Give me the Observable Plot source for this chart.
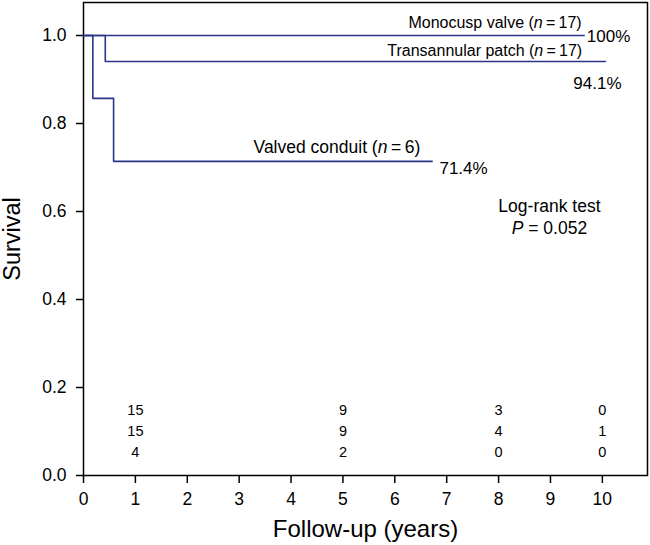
<!DOCTYPE html>
<html><head><meta charset="utf-8">
<script src="https://cdn.jsdelivr.net/npm/d3@7"></script>
<script src="https://cdn.jsdelivr.net/npm/@observablehq/plot@0.6"></script>
<style>
html,body{margin:0;padding:0;background:#fff;}
#chart svg{display:block;}
</style>
</head><body><div id="chart"></div>
<script>
// ---- data ----
const groups = ["Monocusp valve", "Transannular patch", "Valved conduit"];
const groupN = [17, 17, 6];
const monocuspTime = [0, 9.65];
const monocuspSurv = [1, 1];
const transTime = [0, 0.42, 10.06];
const transSurv = [1, 0.941, 0.941];
const valvedTime = [0, 0.18, 0.58, 6.72];
const valvedSurv = [1, 0.857, 0.714, 0.714];
const finalLabels = ["100%", "94.1%", "71.4%"];
const riskTimes = [1, 5, 8, 10];
const riskRow1 = [15, 9, 3, 0];
const riskRow2 = [15, 9, 4, 1];
const riskRow3 = [4, 2, 0, 0];
const xTicks = [0, 1, 2, 3, 4, 5, 6, 7, 8, 9, 10];
const yTicks = [0, 0.2, 0.4, 0.6, 0.8, 1.0];
const testLabel = "Log-rank test";
const pValue = "0.052";

// ---- layout (annotation anchors in data units) ----
const groupLabelPos = [{x: 9.6, y: 1.029, fs: 16}, {x: 9.61, y: 0.966, fs: 16}, {x: 6.49, y: 0.745, fs: 17.5}];
const finalLabelPos = [{x: 9.7, y: 0.998}, {x: 9.44, y: 0.891}, {x: 6.86, y: 0.698}];
const riskRowY = [0.148, 0.1, 0.052];
const testPos = {x: 8.98, y1: 0.611, y2: 0.561};

const curves = [];
[[monocuspTime, monocuspSurv], [transTime, transSurv], [valvedTime, valvedSurv]].forEach(([t, s], i) => {
  t.forEach((tt, j) => curves.push({group: groups[i], t: tt, s: s[j]}));
});
const groupLabels = groups.map((g, i) => ({...groupLabelPos[i], text: `${g} (n\u2009=\u2009${groupN[i]})`}));
const finals = finalLabels.map((f, i) => ({...finalLabelPos[i], text: f}));
const risk = [];
[riskRow1, riskRow2, riskRow3].forEach((row, r) => row.forEach((v, k) => risk.push({t: riskTimes[k], y: riskRowY[r], v})));

const lineColor = "#2a3588";
const font = "'Liberation Sans', Arial, Helvetica, sans-serif";

const chart = Plot.plot({
  width: 650, height: 545,
  marginLeft: 83, marginRight: 3, marginTop: 2, marginBottom: 70,
  style: {fontFamily: font, background: "white", color: "black", overflow: "visible"},
  x: {domain: [0, 10.87]},
  y: {domain: [0, 1.075]},
  marks: [
    Plot.axisX({ticks: xTicks, tickFormat: d => String(d), tickSize: 8, tickPadding: 9, fontSize: 17.5, strokeWidth: 1.5, label: null}),
    Plot.axisY({ticks: yTicks, tickFormat: d3.format(".1f"), tickSize: 7, tickPadding: 10, fontSize: 17.5, strokeWidth: 1.5, label: null}),
    Plot.frame({stroke: "black", strokeWidth: 1.5}),
    Plot.line(curves, {x: "t", y: "s", z: "group", curve: "step-after", stroke: lineColor, strokeWidth: 1.6}),
    Plot.text(groupLabels, {x: "x", y: "y", text: "text", textAnchor: "end", fontSize: d => d.fs, lineAnchor: "middle"}),
    Plot.text(finals, {x: "x", y: "y", text: "text", textAnchor: "start", fontSize: 17, lineAnchor: "middle"}),
    Plot.text([testLabel], {x: testPos.x, y: testPos.y1, text: d => d, fontSize: 17.5, lineAnchor: "middle"}),
    Plot.text(["P = " + pValue], {x: testPos.x, y: testPos.y2, text: d => d, fontSize: 17.5, lineAnchor: "middle"}),
    Plot.text(risk, {x: "t", y: "y", text: "v", fontSize: 14.5, lineAnchor: "middle"}),
    Plot.text(["Survival"], {frameAnchor: "left", dx: -71.5, rotate: -90, fontSize: 23.5, textAnchor: "middle", lineAnchor: "middle"}),
    Plot.text(["Follow-up (years)"], {frameAnchor: "bottom", dy: 54, fontSize: 24, textAnchor: "middle", lineAnchor: "middle"})
  ]
});

// italicize statistical symbols
d3.select(chart).selectAll("text").each(function() {
  const t = this.textContent;
  let m = t.match(/^(.*\()n(\u2009=.*)$/);
  if (m) {
    this.textContent = "";
    const s = d3.select(this);
    s.append("tspan").text(m[1]);
    s.append("tspan").attr("font-style", "italic").text("n");
    s.append("tspan").text(m[2]);
    return;
  }
  m = t.match(/^P( = .*)$/);
  if (m) {
    this.textContent = "";
    const s = d3.select(this);
    s.append("tspan").attr("font-style", "italic").text("P");
    s.append("tspan").text(m[1]);
  }
});
document.getElementById("chart").appendChild(chart);
</script>
</body></html>
